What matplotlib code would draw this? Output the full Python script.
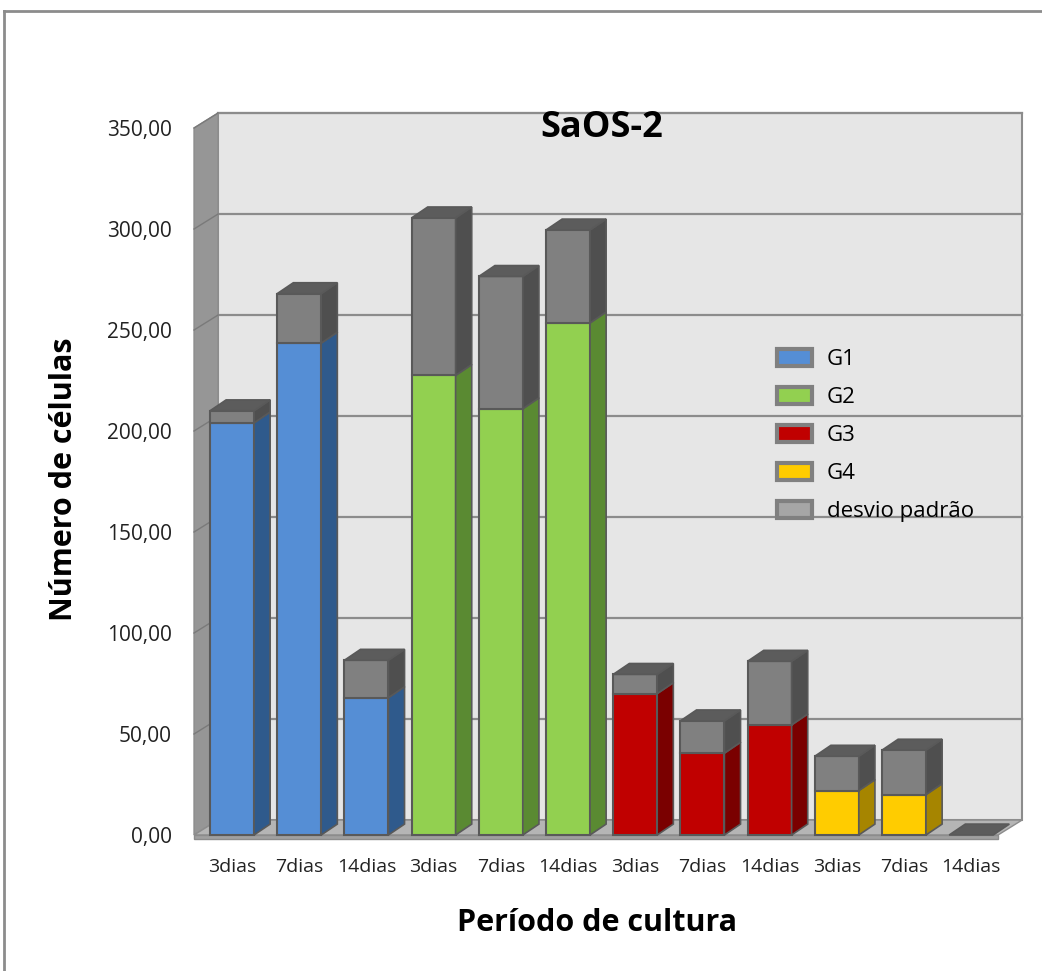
import numpy as np
import matplotlib.pyplot as plt
from matplotlib.patches import Polygon, Patch
from matplotlib.lines import Line2D

plt.rcParams['font.family'] = ['Open Sans', 'DejaVu Sans']

groups = ['G1', 'G2', 'G3', 'G4']
periods = ['3dias', '7dias', '14dias']

g1_mean = [204.0, 243.5, 68.0]
g1_sd = [6.0, 24.5, 18.5]
g2_mean = [227.5, 211.0, 253.5]
g2_sd = [78.0, 65.5, 46.0]
g3_mean = [70.0, 40.5, 54.5]
g3_sd = [9.5, 16.0, 31.5]
g4_mean = [22.0, 20.0, 0.0]
g4_sd = [17.0, 22.0, 0.0]

yticks = [0, 50, 100, 150, 200, 250, 300, 350]

# front / side colours per group
front_cols = ['#558ed5', '#92d050', '#c00000', '#ffcc00']
side_cols = ['#2f5a8c', '#5a8a32', '#7a0000', '#a68500']
sd_front, sd_side, sd_top = '#808080', '#4f4f4f', '#5c5c5c'
edge = '#595959'

means = [g1_mean, g2_mean, g3_mean, g4_mean]
sds = [g1_sd, g2_sd, g3_sd, g4_sd]

W, H = 1042, 971
fig = plt.figure(figsize=(W / 100, H / 100), dpi=100)

# pixel mapping: x_px = 232 + 67.2*x ; y_px = 835 - 2.02*y
px_x0, px_x1, px_y0, px_y1 = 180, 1040, 95, 845
ax = fig.add_axes([px_x0 / W, 1 - px_y1 / H, (px_x1 - px_x0) / W, (px_y1 - px_y0) / H])
ax.set_xlim((px_x0 - 232) / 67.2, (px_x1 - 232) / 67.2)
ax.set_ylim((835 - px_y1) / 2.02, (835 - px_y0) / 2.02)
for s in ax.spines.values():
    s.set_visible(False)

# 3d box: back wall, left wall, floor
xL, xR = -0.565, 11.40
dX, dY = 0.357, 7.4
ytop = yticks[-1]
ax.add_patch(Polygon([(xL + dX, dY), (xR + dX, dY), (xR + dX, ytop + dY), (xL + dX, ytop + dY)],
                     closed=True, fc='#e6e6e6', ec='#8c8c8c', lw=1.5, zorder=1))
ax.add_patch(Polygon([(xL, 0), (xL, ytop), (xL + dX, ytop + dY), (xL + dX, dY)],
                     closed=True, fc='#969696', ec='#8c8c8c', lw=1, zorder=2))
ax.add_patch(Polygon([(xL, 0), (xR, 0), (xR + dX, dY), (xL + dX, dY)],
                     closed=True, fc='#b5b5b5', ec='#8c8c8c', lw=1, zorder=2))
ax.add_patch(Polygon([(xL, 0), (xR, 0), (xR, -1.8), (xL, -1.8)],
                     closed=True, fc='#a0a0a0', ec='#8c8c8c', lw=1, zorder=2))
for v in yticks[1:]:
    ax.plot([xL + dX, xR + dX], [v + dY, v + dY], color='#8c8c8c', lw=1.6, zorder=1.5)
    ax.plot([xL, xL + dX], [v, v + dY], color='#7a7a7a', lw=1, zorder=2.5)

# bars
w = 0.655
bdx, bdy = 0.24, 5.4
k = 0
for g in range(len(groups)):
    for p in range(len(periods)):
        c = k
        m, s = means[g][p], sds[g][p]
        l, r = c - w / 2, c + w / 2
        top = m + s
        if m > 0:
            ax.bar(c, m, width=w, color=front_cols[g], edgecolor=edge, lw=1.5, zorder=3)
            ax.add_patch(Polygon([(r, 0), (r + bdx, bdy), (r + bdx, m + bdy), (r, m)],
                                 closed=True, fc=side_cols[g], ec=edge, lw=1.2, zorder=3))
        if s > 0:
            ax.bar(c, s, bottom=m, width=w, color=sd_front, edgecolor=edge, lw=1.5, zorder=3)
            ax.add_patch(Polygon([(r, m), (r + bdx, m + bdy), (r + bdx, top + bdy), (r, top)],
                                 closed=True, fc=sd_side, ec=edge, lw=1.2, zorder=3))
        ax.add_patch(Polygon([(l, top), (r, top), (r + bdx, top + bdy), (l + bdx, top + bdy)],
                             closed=True, fc=sd_top, ec=edge, lw=1.2, zorder=3))
        k += 1

ax.set_xticks(np.arange(len(groups) * len(periods)))
ax.set_xticklabels(periods * len(groups))
ax.set_yticks(yticks)
ax.set_yticklabels(['{:.2f}'.format(v).replace('.', ',') for v in yticks])
ax.tick_params(axis='y', length=0, pad=6, labelsize=15, labelcolor='#222222')
ax.tick_params(axis='x', length=0, pad=9, labelsize=14, labelcolor='#222222')

fig.text(602 / W, 1 - 128 / H, 'SaOS-2', fontsize=26, fontweight='bold', ha='center', va='center')
fig.text(64 / W, 1 - 479 / H, 'Número de células', fontsize=22, fontweight='bold',
         rotation=90, ha='center', va='center')
fig.text(597 / W, 1 - 923 / H, 'Período de cultura', fontsize=22, fontweight='bold',
         ha='center', va='center')

handles = [Patch(fc=front_cols[i], ec='#808080', lw=3) for i in range(4)]
handles.append(Patch(fc='#a6a6a6', ec='#808080', lw=3))
ax.legend(handles, groups + ['desvio padrão'], loc='upper left',
          bbox_to_anchor=(766 / W, 1 - 338 / H), bbox_transform=fig.transFigure,
          frameon=False, fontsize=16, handlelength=1.55, handleheight=0.8,
          labelspacing=0.75, handletextpad=0.7, borderpad=0)

# chart area border
fig.add_artist(Line2D([4 / W, 4 / W], [1 - 11 / H, 0], color='#8c8c8c', lw=2))
fig.add_artist(Line2D([4 / W, 1], [1 - 11 / H, 1 - 11 / H], color='#8c8c8c', lw=2))

fig.savefig('out.png', dpi=100)
